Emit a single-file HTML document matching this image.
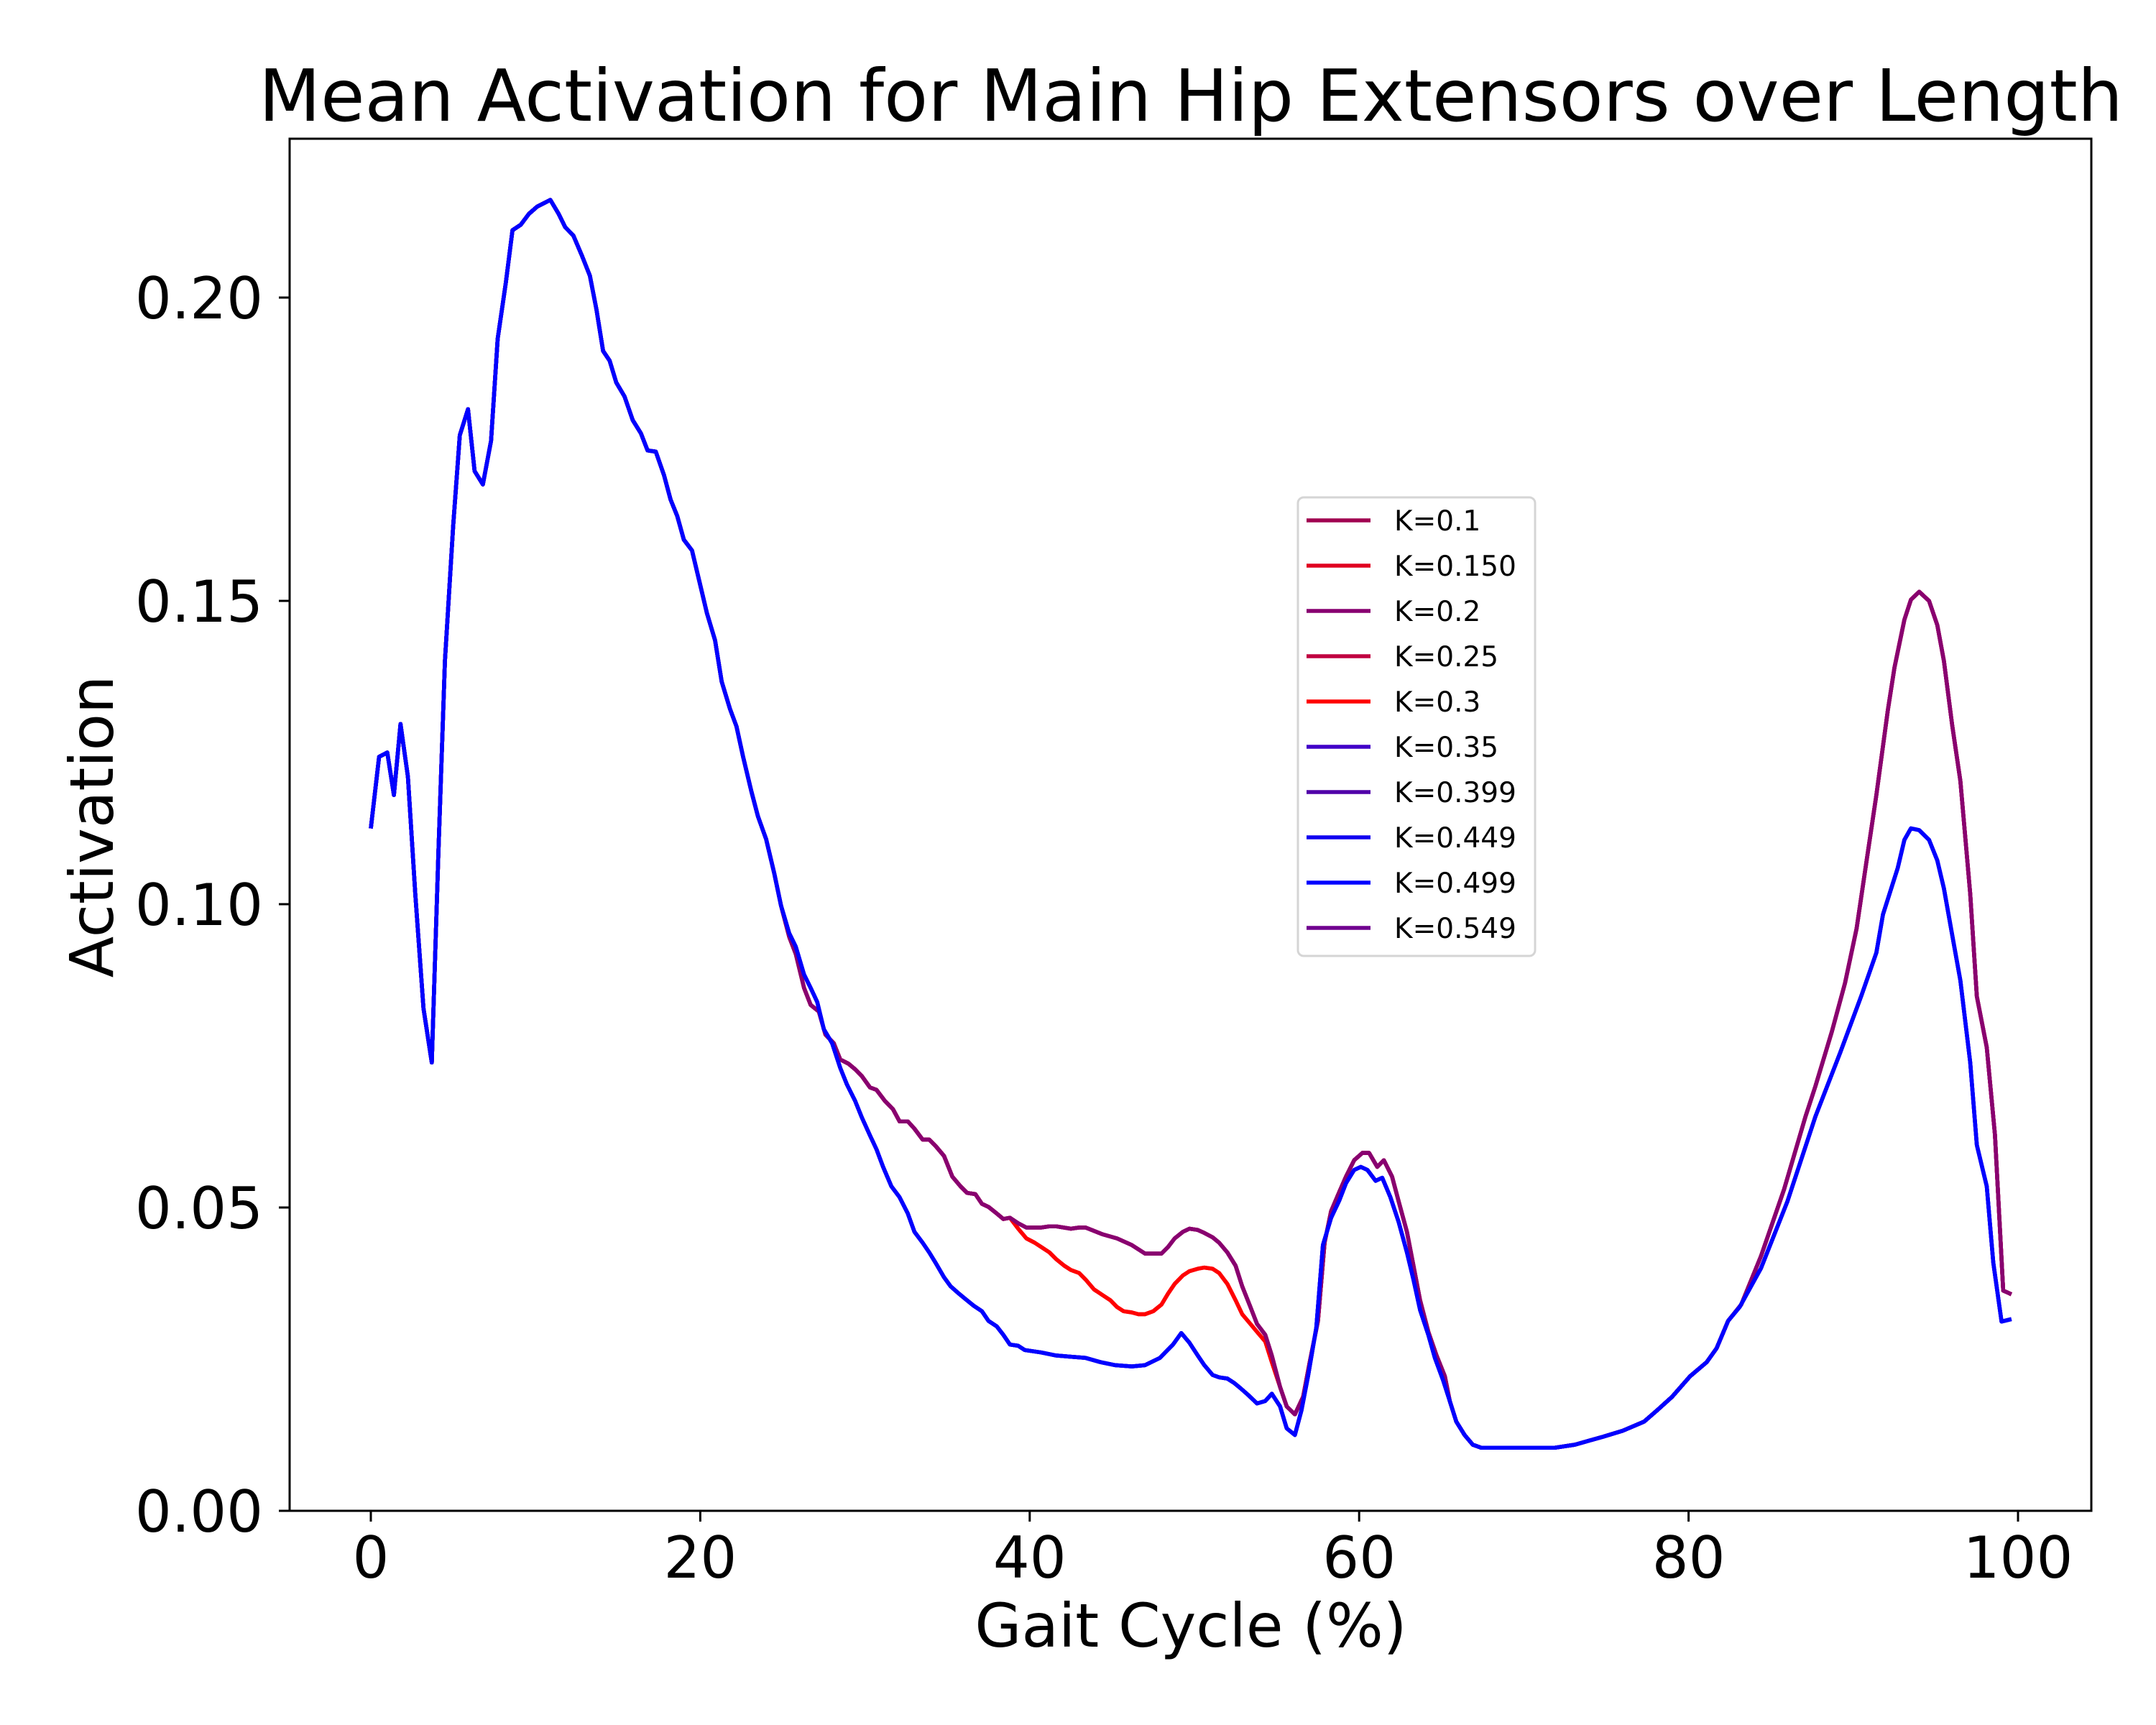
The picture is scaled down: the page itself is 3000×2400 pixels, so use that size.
<!DOCTYPE html>
<html><head><meta charset="utf-8"><style>
html,body{margin:0;padding:0;background:#fff;}
svg{display:block;font-family:"DejaVu Sans","Liberation Sans",sans-serif;}
</style></head><body>
<svg id="chart" width="3000" height="2400" viewBox="0 0 3000 2400" xmlns="http://www.w3.org/2000/svg">
<rect width="3000" height="2400" fill="#fff"/>
<text x="1657" y="168" font-size="100" text-anchor="middle" textLength="2594" lengthAdjust="spacingAndGlyphs">Mean Activation for Main Hip Extensors over Length</text>
<g id="plot"></g>
<rect x="403" y="193" width="2507" height="1909" fill="none" stroke="#000" stroke-width="3"/>
<g id="ticks"></g>
<text x="1657" y="2291" font-size="84" text-anchor="middle">Gait Cycle (%)</text>
<text x="0" y="0" font-size="84" text-anchor="middle" transform="translate(157,1150) rotate(-90)">Activation</text>
<g id="legend"></g>
</svg>
<script>
const xTicks=[0,20,40,60,80,100];
const yTicks=[0,0.05,0.10,0.15,0.20];
const yTickLabels=["0.00","0.05","0.10","0.15","0.20"];
const seriesNames=["K=0.1","K=0.150","K=0.2","K=0.25","K=0.3","K=0.35","K=0.399","K=0.449","K=0.499","K=0.549"];
const seriesColors=["#a00050","#e00020","#880070","#c00040","#ff0000","#4000c8","#5000a8","#1000f0","#0000ff","#70008f"];
const seriesGroup=["A","B","A","A","B","C","C","C","C","A"];
// shared early segment
const gaitEarly=[0,0.5,1.0,1.4,1.8,2.25,2.7,3.2,3.7,4.1,4.5,5.0,5.4,5.9,6.3,6.8,7.3,7.7,8.2,8.6,9.1,9.6,10.1,10.9,11.4,11.8,12.3,12.8,13.3,13.7,14.1,14.5,14.9,15.4,15.9,16.4,16.8,17.3,17.8,18.2,18.6,19.0,19.5,20.0,20.4,20.9,21.3,21.8,22.2,22.6,23.1,23.5,24.0,24.5];
const valEarly=[0.1125,0.1243,0.125,0.118,0.1297,0.121,0.1016,0.0828,0.0739,0.1084,0.1401,0.1624,0.1773,0.1816,0.1714,0.1692,0.1764,0.1932,0.2025,0.2111,0.212,0.2138,0.215,0.2161,0.2138,0.2116,0.2102,0.207,0.2036,0.198,0.1912,0.1896,0.186,0.1837,0.1798,0.1776,0.1748,0.1746,0.1707,0.1667,0.164,0.1601,0.1583,0.1526,0.148,0.1435,0.1367,0.1322,0.1293,0.1243,0.1186,0.1145,0.1107,0.105];
// group A middle segment
const gaitAmid=[24.9,25.4,25.8,26.3,26.7,27.2,27.6,28.1,28.5,29.0,29.4,29.8,30.3,30.7,31.2,31.7,32.1,32.6,33.0,33.5,33.9,34.3,34.8,35.3,35.8,36.2,36.7,37.1,37.5,38.0,38.4,38.8,39.3,39.8,40.7,41.2,41.6,42.5,43.0,43.4,44.4,45.3,46.2,47.0,48.0,48.4,48.8,49.3,49.7,50.2,50.6,51.1,51.5,52.0,52.5,52.9,53.4,53.8,54.3,54.7,55.2,55.6,56.1,56.6,57.0,57.5,57.9,58.3,58.8,59.2,59.7,60.2,60.6,61.1,61.5,62.0,62.4,62.9,63.3,63.7,64.2,64.7,65.2];
const valAmid=[0.0998,0.0946,0.0918,0.0862,0.0834,0.0823,0.0785,0.0771,0.0744,0.0737,0.0728,0.0717,0.0698,0.0694,0.0676,0.0662,0.0642,0.0642,0.063,0.0612,0.0612,0.0601,0.0585,0.0551,0.0535,0.0524,0.0522,0.0506,0.0501,0.049,0.0481,0.0483,0.0474,0.0467,0.0467,0.0469,0.0469,0.0465,0.0467,0.0467,0.0456,0.0449,0.0438,0.0424,0.0424,0.0435,0.0449,0.046,0.0465,0.0463,0.0458,0.0451,0.0442,0.0426,0.0404,0.037,0.0336,0.0308,0.029,0.0256,0.0204,0.0172,0.0159,0.0188,0.0245,0.0313,0.0442,0.0494,0.0526,0.0551,0.0578,0.059,0.059,0.0567,0.0578,0.0551,0.051,0.046,0.0404,0.0347,0.0295,0.0256,0.0222];
// group B deviation (between 39 and 55)
const gaitBmid=[39.3,39.8,40.3,40.7,41.2,41.6,42.1,42.5,43.0,43.4,43.9,44.4,44.9,45.3,45.7,46.2,46.6,47.0,47.5,48.0,48.4,48.8,49.3,49.7,50.2,50.6,51.1,51.5,52.0,52.5,52.9,53.4,53.8,54.3,54.7];
const valBmid=[0.0465,0.0449,0.0442,0.0435,0.0426,0.0415,0.0404,0.0397,0.0392,0.0381,0.0365,0.0356,0.0347,0.0336,0.0329,0.0327,0.0324,0.0324,0.0329,0.034,0.0358,0.0374,0.0388,0.0395,0.0399,0.0401,0.0399,0.0392,0.0374,0.0347,0.0324,0.0308,0.0295,0.0279,0.0245];
// group C middle segment
const gaitCmid=[24.9,25.4,25.8,26.3,26.7,27.1,27.5,28.0,28.5,28.9,29.4,29.8,30.3,30.7,31.1,31.6,32.1,32.6,33.0,33.5,33.9,34.3,34.8,35.2,35.7,36.1,36.6,37.1,37.5,38.0,38.4,38.8,39.3,39.7,40.7,41.6,42.5,43.4,44.3,45.2,46.2,47.0,47.9,48.3,48.7,49.2,49.7,50.2,50.6,51.1,51.5,52.0,52.4,52.8,53.3,53.8,54.3,54.7,55.2,55.6,56.1,56.5,56.9,57.4,57.8,58.3,58.8,59.2,59.7,60.1,60.5,61.0,61.4,61.9,62.4,62.9,63.3,63.7,64.2,64.6,65.1];
const valCmid=[0.0998,0.0952,0.093,0.0884,0.0862,0.0839,0.0794,0.0771,0.073,0.0703,0.0676,0.0649,0.0619,0.0596,0.0567,0.0535,0.0517,0.049,0.046,0.0442,0.0426,0.0408,0.0385,0.037,0.0358,0.0349,0.0338,0.0329,0.0313,0.0304,0.029,0.0274,0.0272,0.0265,0.0261,0.0256,0.0254,0.0252,0.0245,0.024,0.0238,0.024,0.0252,0.0263,0.0274,0.0293,0.0277,0.0256,0.024,0.0224,0.022,0.0218,0.0211,0.0202,0.019,0.0177,0.0181,0.0193,0.0172,0.0136,0.0125,0.0166,0.0222,0.0302,0.0438,0.0483,0.0512,0.054,0.0562,0.0567,0.0562,0.0544,0.0549,0.0517,0.0476,0.0426,0.0381,0.0331,0.029,0.0252,0.0215];
// shared valley segment
const gaitValley=[65.5,65.9,66.4,66.9,67.4,69.4,71.9,73.1,74.0,74.8,76.0,77.3,78.1,79.0,80.1,81.1,81.7,82.4];
const valValley=[0.0181,0.0147,0.0125,0.0109,0.0104,0.0104,0.0104,0.0109,0.0116,0.0122,0.0132,0.0147,0.0166,0.0188,0.0222,0.0245,0.0268,0.0313];
// group A late segment
const gaitAlate=[83.2,84.4,85.8,87.1,87.7,88.7,89.5,90.2,90.8,91.4,92.1,92.5,93.1,93.5,94.0,94.6,95.1,95.5,96.0,96.5,97.1,97.5,98.1,98.6,99.1,99.6];
const valAlate=[0.0340,0.0420,0.0530,0.0650,0.0700,0.0790,0.0870,0.0960,0.1070,0.1180,0.1320,0.1390,0.1469,0.1502,0.1515,0.150,0.146,0.1401,0.1296,0.1203,0.1017,0.0848,0.0764,0.062,0.0363,0.0357];
// group C late segment
const gaitClate=[83.1,84.4,86.0,87.7,89.2,90.5,91.4,91.8,92.7,93.1,93.5,94.0,94.6,95.1,95.5,96.0,96.5,97.1,97.5,98.1,98.5,99.0,99.6];
const valClate=[0.0336,0.0400,0.0510,0.0650,0.0755,0.0850,0.0920,0.0983,0.106,0.1106,0.1125,0.1122,0.1106,0.1072,0.1026,0.095,0.0874,0.0739,0.0603,0.0535,0.0409,0.0312,0.0316];

const NS="http://www.w3.org/2000/svg";
const X0=516,XS=22.92,Y0=2102,YS=8440;
function xScale(g){return X0+g*XS;}
function yScale(v){return Y0-v*YS;}
function zip(g,v){return g.map((x,i)=>[x,v[i]]);}
function buildGroup(k){
  let pts=zip(gaitEarly,valEarly);
  if(k==="C"){pts=pts.concat(zip(gaitCmid,valCmid));}
  else{
    const a=zip(gaitAmid,valAmid);
    if(k==="A"){pts=pts.concat(a);}
    else{pts=pts.concat(a.filter(p=>p[0]<39),zip(gaitBmid,valBmid),a.filter(p=>p[0]>55));}
  }
  pts=pts.concat(zip(gaitValley,valValley));
  pts=pts.concat(k==="C"?zip(gaitClate,valClate):zip(gaitAlate,valAlate));
  return pts;
}
const plot=document.getElementById('plot');
const order=[1,4,9,0,3,2,5,6,7,8];
order.forEach(i=>{
  const pts=buildGroup(seriesGroup[i]);
  const p=document.createElementNS(NS,'polyline');
  p.setAttribute('points',pts.map(q=>xScale(q[0]).toFixed(1)+','+yScale(q[1]).toFixed(1)).join(' '));
  p.setAttribute('fill','none');
  p.setAttribute('stroke',seriesColors[i]);
  p.setAttribute('stroke-width','5.5');
  p.setAttribute('stroke-linejoin','round');
  
  
  plot.appendChild(p);
});
const ticks=document.getElementById('ticks');
xTicks.forEach(t=>{
  const x=xScale(t);
  const l=document.createElementNS(NS,'line');
  l.setAttribute('x1',x);l.setAttribute('x2',x);l.setAttribute('y1',2102);l.setAttribute('y2',2117);
  l.setAttribute('stroke','#000');l.setAttribute('stroke-width','3');
  
  
  ticks.appendChild(l);
  const tx=document.createElementNS(NS,'text');
  tx.setAttribute('x',x);tx.setAttribute('y',2195);tx.setAttribute('font-size','80');tx.setAttribute('text-anchor','middle');
  tx.textContent=String(t);
  
  
  ticks.appendChild(tx);
});
yTicks.forEach((t,i)=>{
  const y=yScale(t);
  const l=document.createElementNS(NS,'line');
  l.setAttribute('x1',388);l.setAttribute('x2',403);l.setAttribute('y1',y);l.setAttribute('y2',y);
  l.setAttribute('stroke','#000');l.setAttribute('stroke-width','3');
  
  
  ticks.appendChild(l);
  const tx=document.createElementNS(NS,'text');
  tx.setAttribute('x',366);tx.setAttribute('y',y+29);tx.setAttribute('font-size','80');tx.setAttribute('text-anchor','end');
  tx.textContent=yTickLabels[i];
  
  
  ticks.appendChild(tx);
});
const lg=document.getElementById('legend');
const box=document.createElementNS(NS,'rect');
box.setAttribute('x',1806);box.setAttribute('y',692);box.setAttribute('width',330);box.setAttribute('height',638);
box.setAttribute('rx',8);box.setAttribute('fill','#fff');box.setAttribute('fill-opacity','0.8');box.setAttribute('stroke','#d5d5d5');box.setAttribute('stroke-width','3');


lg.appendChild(box);
seriesNames.forEach((n,i)=>{
  const y=724+i*63;
  const l=document.createElementNS(NS,'line');
  l.setAttribute('x1',1818);l.setAttribute('x2',1907);l.setAttribute('y1',y);l.setAttribute('y2',y);
  l.setAttribute('stroke',seriesColors[i]);l.setAttribute('stroke-width','5.5');
  
  
  lg.appendChild(l);
  const t=document.createElementNS(NS,'text');
  t.setAttribute('x',1940);t.setAttribute('y',y+14);t.setAttribute('font-size','39');
  t.textContent=n;
  
  
  lg.appendChild(t);
});
</script>
</body></html>
